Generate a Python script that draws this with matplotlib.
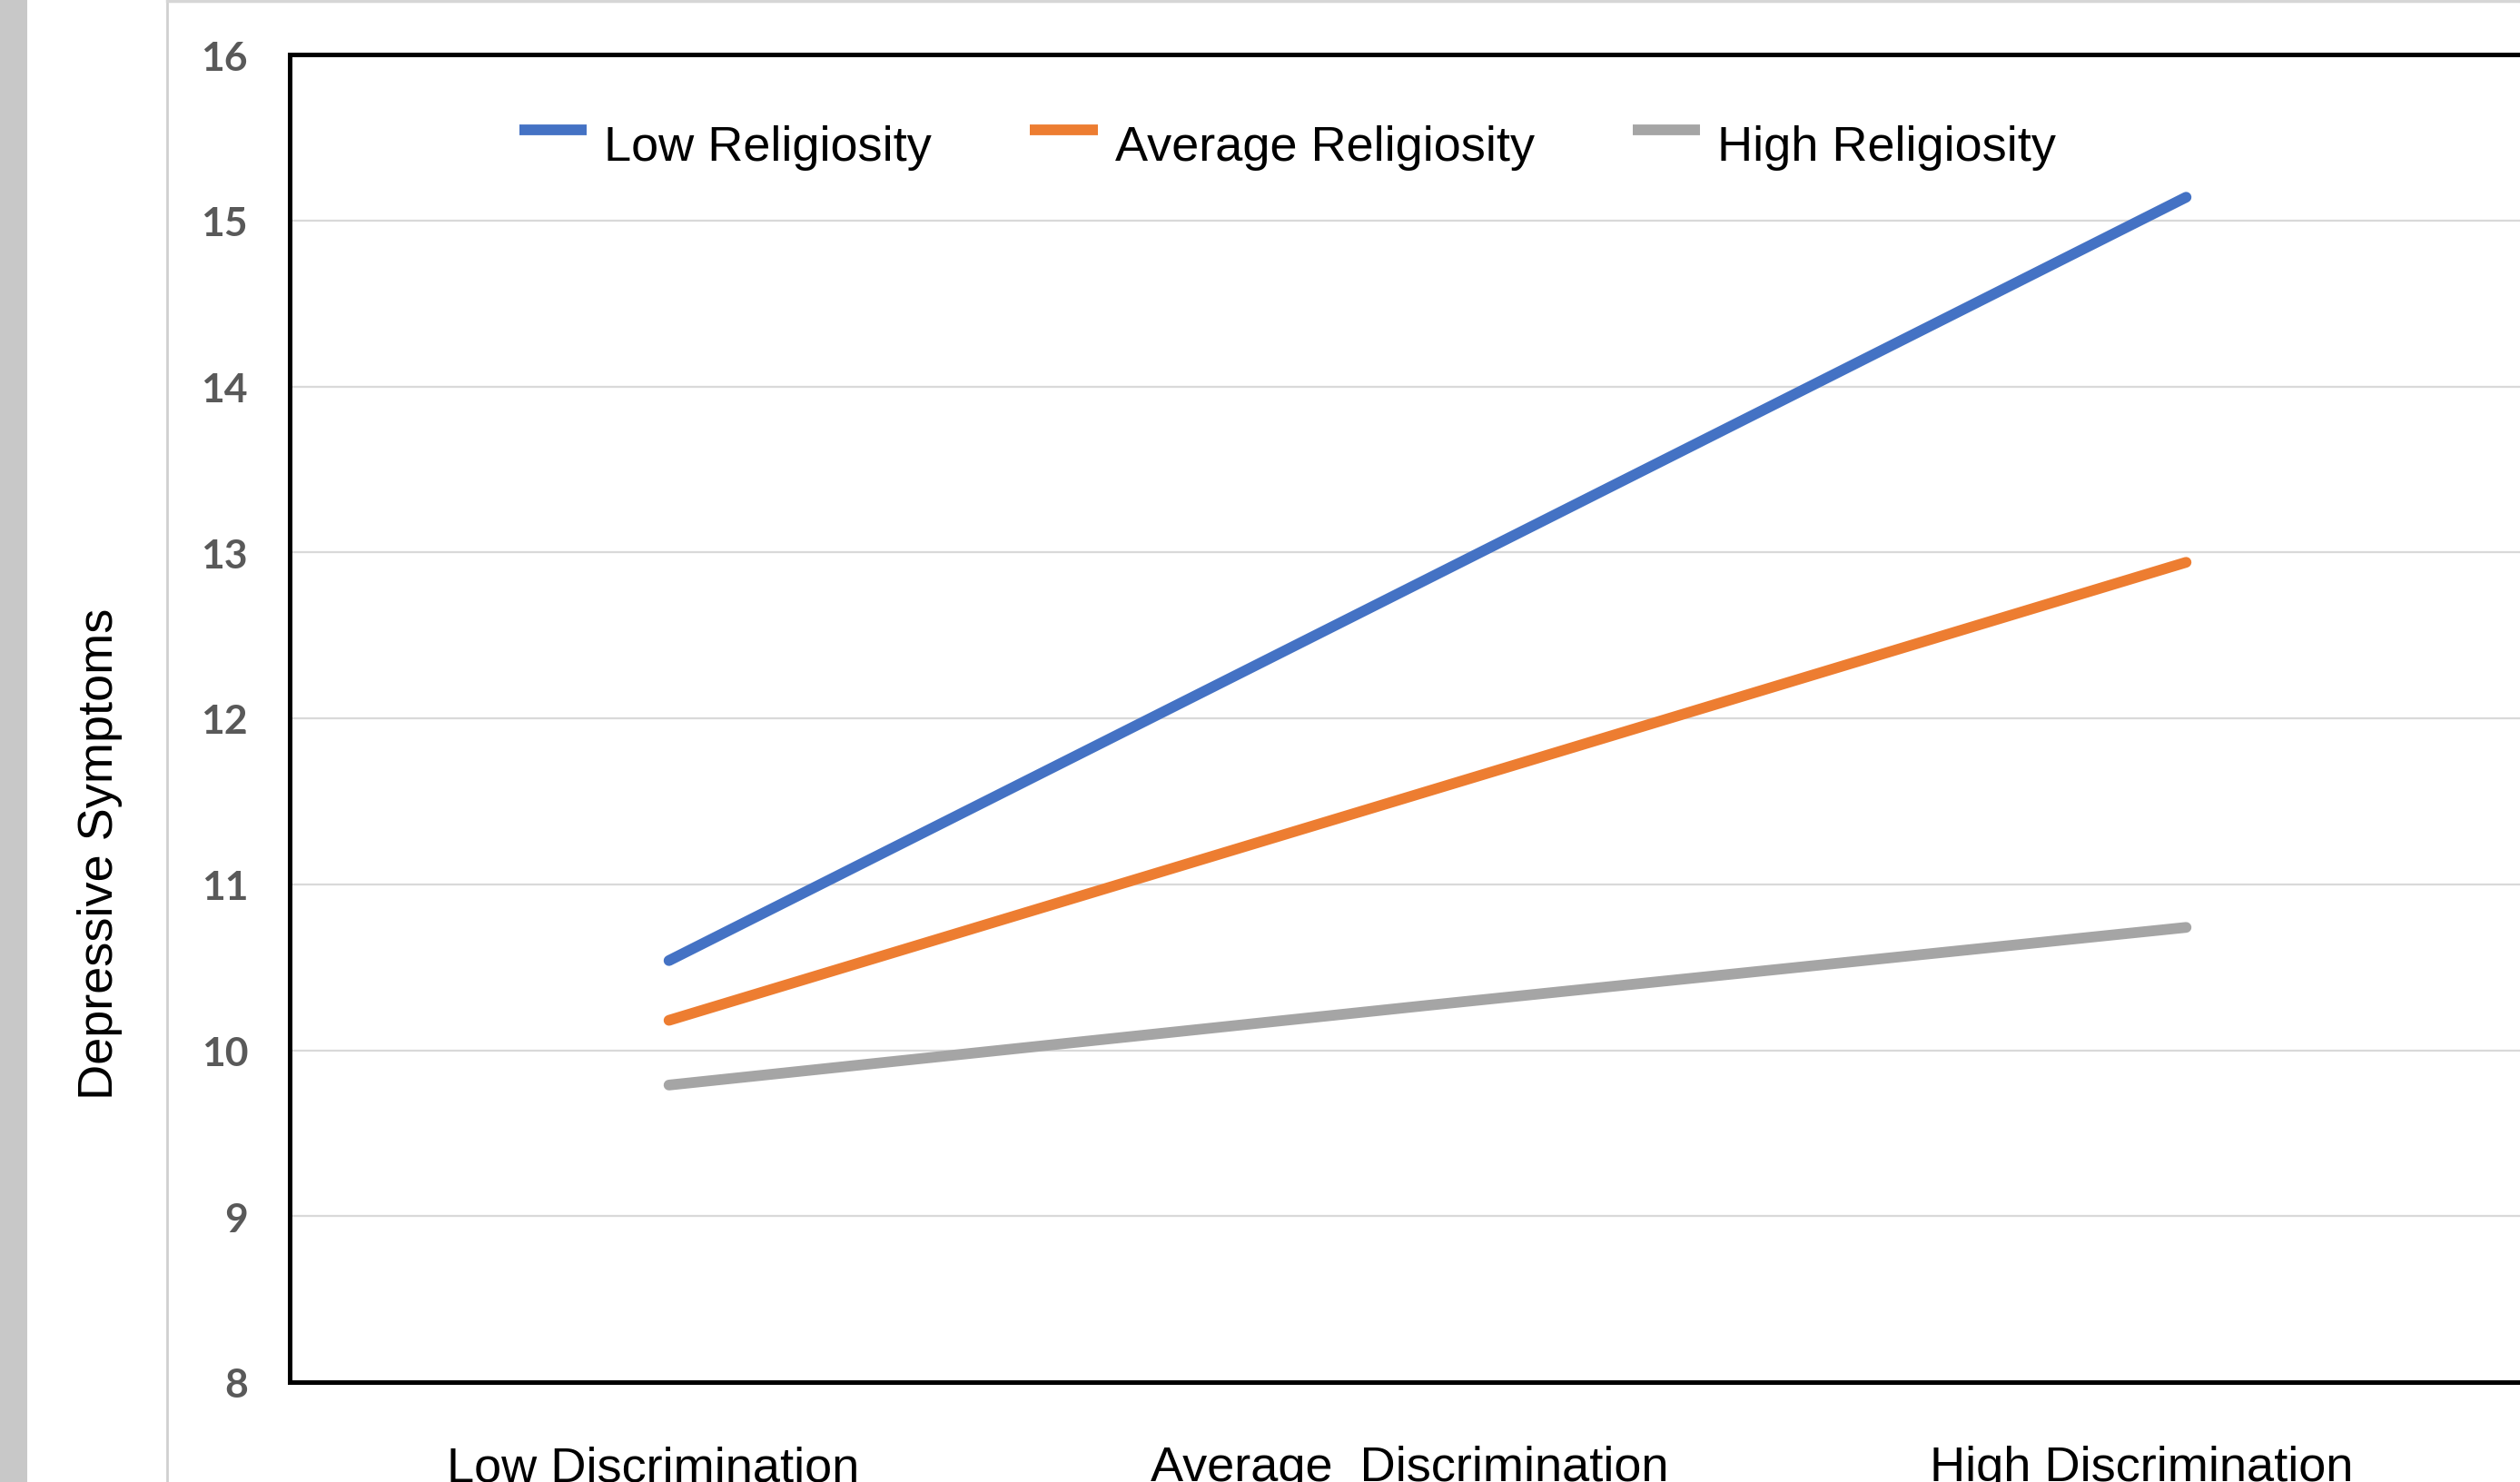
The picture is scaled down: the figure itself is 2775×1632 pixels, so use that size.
import matplotlib
matplotlib.use("Agg")
import matplotlib.pyplot as plt
from matplotlib.lines import Line2D
from matplotlib.patches import Rectangle
from matplotlib.transforms import ScaledTranslation

# ---- data ----
categories = ["Low Discrimination", "Average  Discrimination", "High Discrimination"]
series_names = ["Low Religiosity", "Average Religiosity", "High Religiosity"]
low_religiosity = [10.54, 12.84, 15.14]
avg_religiosity = [10.18, 11.56, 12.94]
high_religiosity = [9.79, 10.27, 10.74]
y_ticks = [8, 9, 10, 11, 12, 13, 14, 15, 16]
y_label = "Depressive Symptoms"

colors = ["#4472C4", "#ED7D31", "#A5A5A5"]

W, H, DPI = 2775, 1633, 100
fig = plt.figure(figsize=(W / DPI, H / DPI), dpi=DPI)
fig.patch.set_facecolor("white")

# decorative frame of the screenshot
fig.add_artist(Rectangle((0, 0), 30 / W, 1, transform=fig.transFigure,
                         facecolor="#c8c8c8", edgecolor="none"))
fig.add_artist(Line2D([184 / W, 184 / W], [0, 1], transform=fig.transFigure,
                      color="#d0d0d0", lw=2))
fig.add_artist(Line2D([184 / W, 1], [1 - 2 / H, 1 - 2 / H], transform=fig.transFigure,
                      color="#d6d6d6", lw=2.5))

left, right = 319 / W, 2825 / W
bottom, top = (H - 1523) / H, (H - 61) / H
ax = fig.add_axes([left, bottom, right - left, top - bottom])

x = list(range(len(categories)))
for vals, name, c in zip([low_religiosity, avg_religiosity, high_religiosity], series_names, colors):
    ax.plot(x, vals, color=c, lw=8.5, solid_capstyle="round", label=name, zorder=3)

ax.set_xlim(-0.5, 2.5)
ax.set_ylim(8, 16)
ax.set_yticks(y_ticks)
ax.grid(axis="y", color="#d9d9d9", lw=1.6, zorder=0)
ax.set_axisbelow(True)

for s in ["left", "top", "bottom"]:
    ax.spines[s].set_color("black")
    ax.spines[s].set_linewidth(3.6)
ax.spines["right"].set_visible(False)

ax.set_yticklabels([str(v) for v in y_ticks], fontfamily=["Lato", "DejaVu Sans"],
                   fontweight="bold", fontsize=32, color="#595959")
ax.tick_params(axis="y", length=0, pad=33)

ax.set_xticks(x)
ax.set_xticklabels(categories, fontfamily=["Liberation Sans", "DejaVu Sans"],
                   fontsize=39, color="black")
ax.tick_params(axis="x", length=0, pad=50)
offsets_px = [-18, -20, -49]
for lab, dx in zip(ax.get_xticklabels(), offsets_px):
    lab.set_transform(lab.get_transform() + ScaledTranslation(dx / DPI, 0, fig.dpi_scale_trans))

fig.text(110 / W, 1 - 940 / H, y_label, rotation=90, ha="center", va="center",
         fontfamily=["Liberation Sans", "DejaVu Sans"], fontsize=39, color="black")

leg = ax.legend(loc="center left", bbox_to_anchor=(572 / W, 1 - 163 / H),
                bbox_transform=fig.transFigure, ncol=3, frameon=False,
                prop={"family": "Liberation Sans", "size": 39},
                handlelength=1.37, handletextpad=0.35, columnspacing=2.0,
                borderpad=0, borderaxespad=0)
for h in leg.get_lines():
    h.set_linewidth(8.5)
    h.set_solid_capstyle("butt")
    h.set_transform(h.get_transform() + ScaledTranslation(0, 14 / DPI, fig.dpi_scale_trans))

fig.savefig("out.png", dpi=DPI)
